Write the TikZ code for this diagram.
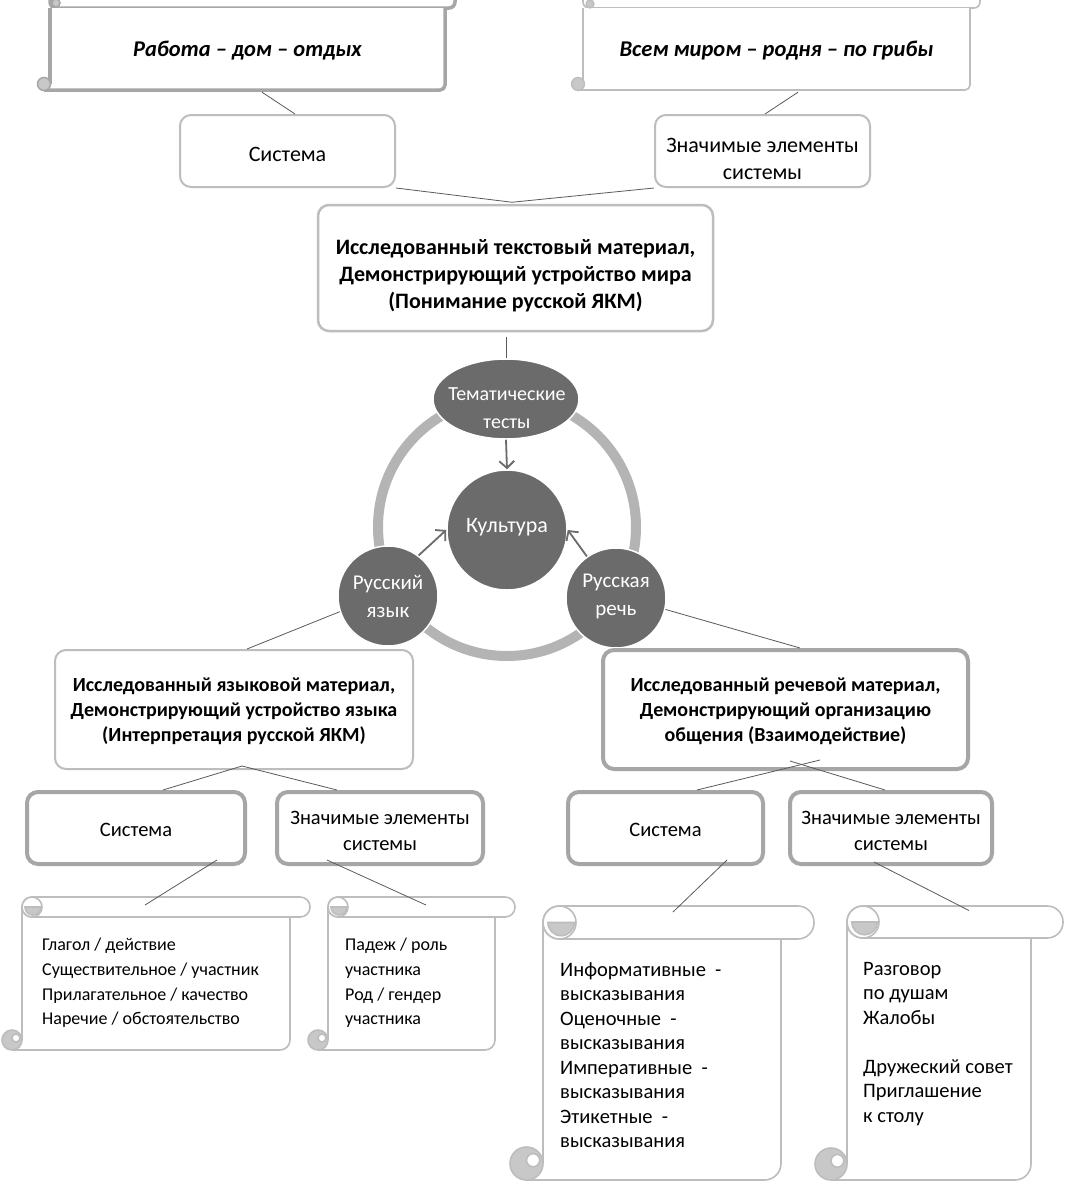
\documentclass[tikz,border=0pt]{standalone}
\usepackage{fontspec}
\setmainfont{Carlito}
\usetikzlibrary{calc,arrows.meta,shapes.geometric}
\definecolor{bordg}{HTML}{A6A6A6}
\definecolor{bordl}{HTML}{BDBDBD}
\definecolor{ringg}{HTML}{B4B4B4}
\definecolor{nodeg}{HTML}{6B6B6B}
\definecolor{curlg}{HTML}{C8C8C8}
\definecolor{lineg}{HTML}{5A5A5A}
\tikzset{
 conn/.style={draw=lineg, line width=0.8pt},
 rbox/.style={draw=bordl, line width=2pt, rounded corners=11pt, fill=white, inner sep=0pt},
 tbox/.style={rbox, draw=bordg, line width=4pt},
 lbl/.style={align=center, inner sep=0pt, font=\fontsize{22}{26.5}\selectfont},
 slbl/.style={align=center, inner sep=0pt, font=\fontsize{20.5}{25.5}\selectfont},
 blbl/.style={align=center, inner sep=0pt, font=\fontsize{22}{27}\selectfont\bfseries},
 sblbl/.style={align=center, inner sep=0pt, font=\fontsize{20}{25}\selectfont\bfseries},
 dark/.style={fill=nodeg, draw=white, line width=1.5pt, inner sep=0pt},
 wlbl/.style={text=white, align=center, inner sep=0pt, font=\fontsize{21}{28}\selectfont},
 sc/.style={draw=bordl, line width=1.6pt},
 hsc/.style={draw=bordg, line width=3.5pt},
 arr/.style={draw=nodeg, line width=1.8pt, -{Straight Barb[length=7pt,width=15pt]}},
 stxt/.style={anchor=north west, align=left, inner sep=0pt}
}
% vertical scroll: xL, T, h, xRR, B, name
\newcommand{\myvscroll}[6]{%
 \pgfmathsetmacro\scL{#1}\pgfmathsetmacro\scT{#2}\pgfmathsetmacro\scH{#3}%
 \pgfmathsetmacro\scRR{#4}\pgfmathsetmacro\scB{#5}%
 \pgfmathsetmacro\scR{\scRR-\scH}\pgfmathsetmacro\scHH{\scH/2}\pgfmathsetmacro\scRC{0.49*\scH}%
 \fill[white] (\scL,\scT+\scH) rectangle (\scR,\scB);
 \draw[sc] (\scL,\scT+\scHH) -- (\scL,\scB-\scHH);
 \draw[sc, rounded corners=\scHH pt] (\scL-\scHH,\scB) -- (\scR,\scB) -- (\scR,\scT+\scH);
 \draw[sc, fill=white, rounded corners=\scRC pt] (\scL,\scT) rectangle (\scRR,\scT+\scH);
 \draw[sc, fill=white] (\scL+\scHH,\scT+\scHH) circle[radius=\scHH];
 \draw[sc, fill=curlg] (\scL+0.15*\scH,\scT+\scHH) arc[start angle=180, end angle=0, radius=0.4*\scH] -- cycle;
 \draw[sc, fill=curlg] (\scL-\scHH,\scB-\scHH) circle[radius=\scHH];
 \draw[sc, fill=white] (\scL-0.3*\scH,\scB-0.6*\scH) circle[radius=0.2*\scH];
 \coordinate (#6) at ($(\scL,\scT)!0.5!(\scRR,\scT+\scH)$);
}
\begin{document}
\begin{tikzpicture}[x=1pt,y=-1pt]
\useasboundingbox (0,0) rectangle (1065,1186);
\fill[white] (0,0) rectangle (1065,1186);

% ---- top horizontal scrolls ----
\draw[hsc, fill=white, rounded corners=6pt] (50,-12) rectangle (455,8);
\fill[white] (50,8) rectangle (445,90);
\draw[hsc] (50,8) -- (50,84);
\draw[hsc, rounded corners=5pt] (44,90) -- (445,90) -- (445,8);
\draw[draw=bordg, line width=1.5pt, fill=curlg] (56,3) circle[radius=4];
\draw[draw=bordg, line width=1.5pt, fill=curlg] (44,84) circle[radius=6.5];
\node[inner sep=0pt, minimum width=395pt, minimum height=82pt, font=\fontsize{22.5}{26}\selectfont\bfseries\itshape] (hs1) at (247.5,51) {Работа – дом – отдых};

\draw[sc, fill=white, rounded corners=6pt] (583,-12) rectangle (980,8);
\fill[white] (583,8) rectangle (970,90);
\draw[sc] (583,8) -- (583,84);
\draw[sc, rounded corners=5pt] (578,90) -- (970,90) -- (970,8);
\draw[draw=bordl, line width=1.3pt, fill=curlg] (590,4) circle[radius=4];
\draw[draw=bordl, line width=1.3pt, fill=curlg] (578,84) circle[radius=6.5];
\node[inner sep=0pt, minimum width=387pt, minimum height=82pt, font=\fontsize{22.5}{26}\selectfont\bfseries\itshape] (hs2) at (776.5,51) {Всем миром – родня – по грибы};

% ---- upper boxes ----
\node[rbox, minimum width=215pt, minimum height=72pt] (sysT) at (287.5,151) {};
\node[lbl] (sysTt) at ($(sysT)+(0,3)$) {Система};
\node[rbox, minimum width=215pt, minimum height=72pt] (znT) at (762.5,151) {};
\node[lbl] (znTt) at ($(znT)+(0,8)$) {Значимые элементы\\системы};
\node[rbox, line width=2.5pt, minimum width=395pt, minimum height=126pt] (ctr) at (515.5,268) {};
\node[blbl] (ctrt) at ($(ctr)+(0,8)$)
 {Исследованный текстовый материал,\\Демонстрирующий устройство мира\\(Понимание русской ЯКМ)};

% ---- cycle ----
\draw[ringg, line width=10pt] (507,527) circle[radius=129];
\node[dark, ellipse, minimum width=146pt, minimum height=80pt] (them) at (506,399) {};
\node[wlbl, font=\fontsize{20}{28}\selectfont] (themt) at (507,408) {Тематические\\тесты};
\node[dark, circle, minimum size=120pt] (kult) at (507,530) {};
\node[wlbl, font=\fontsize{22}{28}\selectfont] (kultt) at (507,527) {Культура};
\node[dark, circle, minimum size=100pt] (yaz) at (388,596) {};
\node[wlbl] (yazt) at (388,596) {Русский\\язык};
\node[dark, circle, minimum size=100pt] (rech) at (616,598) {};
\node[wlbl] (recht) at (616,596) {Русская\\речь};
\draw[arr] (them.south) -- (kult.north);
\draw[arr] (yaz.53) -- (kult.180);
\draw[arr] (rech.125) -- (kult.0);

% ---- middle boxes ----
\node[rbox, minimum width=358pt, minimum height=119pt] (lbig) at (234,709.5) {};
\node[sblbl] (lbigt) at ($(lbig)+(0,2)$)
 {Исследованный языковой материал,\\Демонстрирующий устройство языка\\(Интерпретация русской ЯКМ)};
\node[tbox, minimum width=365pt, minimum height=119pt] (rbig) at (785.5,709.5) {};
\node[sblbl] (rbigt) at ($(rbig)+(0,2)$)
 {Исследованный речевой материал,\\Демонстрирующий организацию\\общения (Взаимодействие)};

\node[tbox, minimum width=218pt, minimum height=72pt] (lsys) at (136,828) {};
\node[slbl] (lsyst) at ($(lsys)+(0,2)$) {Система};
\node[tbox, minimum width=206pt, minimum height=72pt] (lzn) at (380,828) {};
\node[slbl] (lznt) at ($(lzn)+(0,3)$) {Значимые элементы\\системы};
\node[tbox, minimum width=195pt, minimum height=72pt] (rsys) at (665.5,828) {};
\node[slbl] (rsyst) at ($(rsys)+(0,2)$) {Система};
\node[tbox, minimum width=202pt, minimum height=72pt] (rzn) at (891,828) {};
\node[slbl] (rznt) at ($(rzn)+(0,3)$) {Значимые элементы\\системы};

% ---- vertical scrolls ----
\myvscroll{22}{897}{20}{310}{1050}{vs1}
\myvscroll{328}{897}{20}{515}{1050}{vs2}
\myvscroll{543}{906}{33}{814}{1180}{vs3}
\myvscroll{847}{906}{32}{1063}{1180}{vs4}

\node[stxt, font=\fontsize{18}{24.7}\selectfont] (t1) at (42,938)
 {Глагол / действие\\Существительное / участник\\Прилагательное / качество\\Наречие / обстоятельство};
\node[stxt, font=\fontsize{18}{24.7}\selectfont] (t2) at (345,938)
 {Падеж / роль\\участника\\Род / гендер\\участника};
\node[stxt, font=\fontsize{20.5}{24.5}\selectfont] (t3) at (560,962)
 {Информативные \ -\\высказывания\\Оценочные \ -\\высказывания\\Императивные \ -\\высказывания\\Этикетные \ -\\высказывания};
\node[stxt, font=\fontsize{20.5}{24.5}\selectfont] (t4) at (863,962)
 {Разговор\\по душам\\Жалобы\\[24.5pt]Дружеский совет\\Приглашение\\к столу};

% ---- connectors ----
\draw[conn] ($(hs1.south)+(14.5,0)$) -- ($(sysT.north)+(7.5,0)$);
\draw[conn] ($(hs2.south)+(21.5,0)$) -- ($(znT.north)+(2.5,0)$);
\draw[conn] (sysT.south east) -- ($(ctr.north)+(-3.5,-1.5)$);
\draw[conn] (znT.south west) -- ($(ctr.north)+(-3.5,-1.5)$);
\draw[conn] ($(ctr.south)+(-9.5,5)$) -- (them.north);
\draw[conn] (yaz.198) -- ($(lbig.north)+(13,0)$);
\draw[conn] (rech.347) -- ($(rbig.north)+(14.5,0)$);
\draw[conn] ($(lbig.south)+(8,-4)$) -- ($(lsys.north)+(27,0)$);
\draw[conn] ($(lbig.south)+(8,-4)$) -- ($(lzn.north)+(-43,0)$);
\draw[conn] ($(rsys.north)+(31.5,0)$) -- ($(rbig.south)+(34.5,-11)$);
\draw[conn] ($(rzn.north)+(-6,0)$) -- ($(rbig.south)+(4.5,-10)$);
\draw[conn] ($(lsys.south)+(81,-6)$) -- ($(vs1)+(-21,-2)$);
\draw[conn] ($(lzn.south)+(-53,-6)$) -- ($(vs2)+(4.5,-2)$);
\draw[conn] ($(rsys.south)+(61.5,-6)$) -- ($(vs3)+(-5.5,-10.5)$);
\draw[conn] ($(rzn.south)+(-17,-4)$) -- ($(vs4)+(14,-11.5)$);
\end{tikzpicture}
\end{document}
